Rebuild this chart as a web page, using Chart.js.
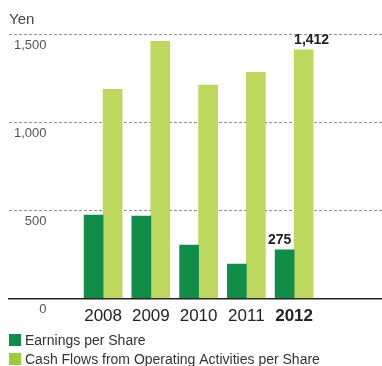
<!DOCTYPE html>
<html>
<head>
<meta charset="utf-8">
<title>Earnings per Share / Cash Flows per Share</title>
<script src="https://cdn.jsdelivr.net/npm/chart.js@4"></script>
<style>
  html, body { margin: 0; padding: 0; background: #fff; overflow: hidden; }
  canvas { display: block; }
</style>
</head>
<body>
<canvas id="perShareChart" width="382" height="366"></canvas>
<script>
// --- Dados ---
const years = [2008, 2009, 2010, 2011, 2012];
const earningsPerShare = [473, 467, 302, 195, 275];
const cashFlowPerShare = [1188, 1460, 1211, 1284, 1412];
const yTicks = [0, 500, 1000, 1500];
const seriesNames = ['Earnings per Share', 'Cash Flows from Operating Activities per Share'];
const highlightYear = 2012;

// --- Estilo ---
const FONT = '"Liberation Sans", Arial, Helvetica, sans-serif';
const barColors = ['#118d49', '#bdd75f'];
const legendColors = ['#118d49', '#9acb3b'];

// valores do último ano escritos acima das barras
const valueLabels = {
    id: 'valueLabels',
    afterDatasetsDraw(chart) {
        const ctx = chart.ctx;
        const idx = years.indexOf(highlightYear);
        const shift = [-5, 8];
        ctx.save();
        ctx.font = 'bold 14px ' + FONT;
        ctx.fillStyle = '#222';
        ctx.textAlign = 'center';
        ctx.textBaseline = 'middle';
        chart.data.datasets.forEach((ds, i) => {
            const bar = chart.getDatasetMeta(i).data[idx];
            ctx.fillText(ds.data[idx].toLocaleString('en-US'), bar.x + shift[i], bar.y - 10);
        });
        ctx.restore();
    }
};

// legenda em linhas, alinhada à esquerda
const stackedLegend = {
    id: 'stackedLegend',
    afterDraw(chart) {
        const ctx = chart.ctx;
        ctx.save();
        ctx.font = '14px ' + FONT;
        ctx.textBaseline = 'middle';
        ctx.textAlign = 'left';
        seriesNames.forEach((name, i) => {
            const top = 334 + i * 19;
            ctx.fillStyle = legendColors[i];
            ctx.fillRect(9, top, 12, 12);
            ctx.fillStyle = '#333';
            ctx.fillText(name, 25, top + 7.5);
        });
        ctx.restore();
    }
};

new Chart(document.getElementById('perShareChart'), {
    type: 'bar',
    data: {
        labels: years,
        datasets: [
            { label: seriesNames[0], data: earningsPerShare, backgroundColor: barColors[0] },
            { label: seriesNames[1], data: cashFlowPerShare, backgroundColor: barColors[1] }
        ]
    },
    options: {
        responsive: false,
        animation: false,
        layout: { padding: { left: 9, right: 0, top: 0, bottom: 37.7 } },
        datasets: { bar: { barThickness: 19 } },
        plugins: {
            legend: { display: false },
            tooltip: { enabled: false },
            title: {
                display: true,
                text: 'Yen',
                align: 'start',
                color: '#444',
                font: { family: FONT, size: 15, weight: 'normal' },
                padding: { top: 11, bottom: 5.3 }
            }
        },
        scales: {
            x: {
                type: 'linear',
                offset: false,
                min: 2006.03,
                max: 2013.84,
                grid: { display: false, offset: false, drawTicks: false },
                border: { display: true, color: '#222', width: 1.5 },
                afterBuildTicks: (scale) => { scale.ticks = years.map(v => ({ value: v })); },
                afterFit: (scale) => { scale.height = 30; },
                ticks: {
                    autoSkip: false,
                    maxRotation: 0,
                    padding: 8,
                    color: '#222',
                    callback: (v) => String(v),
                    font: (ctx) => ({
                        family: FONT,
                        size: 17,
                        weight: ctx.tick && ctx.tick.value === highlightYear ? 'bold' : 'normal'
                    })
                }
            },
            y: {
                min: 0,
                max: 1500,
                afterBuildTicks: (scale) => { scale.ticks = yTicks.map(v => ({ value: v })); },
                afterFit: (scale) => { scale.width = 0; },
                grid: {
                    drawTicks: false,
                    lineWidth: 1,
                    color: (ctx) => (ctx.tick && ctx.tick.value === 0) ? 'rgba(0,0,0,0)' : '#8f8f8f'
                },
                border: { display: false, dash: [3, 2] },
                ticks: {
                    mirror: true,
                    crossAlign: 'far',
                    padding: 5,
                    labelOffset: 11,
                    color: '#555',
                    font: { family: FONT, size: 13 },
                    callback: (v) => v.toLocaleString('en-US')
                }
            }
        }
    },
    plugins: [valueLabels, stackedLegend]
});
</script>
</body>
</html>
